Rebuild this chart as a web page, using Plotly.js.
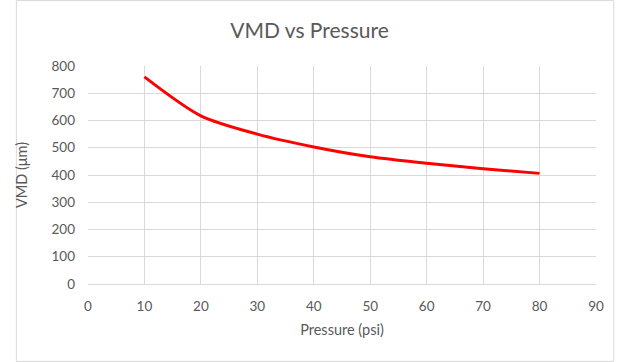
<!DOCTYPE html>
<html>
<head>
<meta charset="utf-8">
<script src="https://cdn.plot.ly/plotly-3.0.1.min.js"></script>
<style>html,body{margin:0;padding:0;background:#fff;}#chart{width:619px;height:362px;}</style>
</head>
<body>
<div id="chart"></div>
<script>
const pressure = [10, 20, 30, 40, 50, 60, 70, 80];
const vmd = [760, 617, 550, 503, 467, 443, 423, 406];
const xTicks = [0, 10, 20, 30, 40, 50, 60, 70, 80, 90];
const yTicks = [0, 100, 200, 300, 400, 500, 600, 700, 800];

const fontFam = 'Lato, "Open Sans", sans-serif';
const grey = '#595959';

Plotly.newPlot('chart', [{
  x: pressure,
  y: vmd,
  type: 'scatter',
  mode: 'lines',
  line: {color: '#ff0000', width: 3, shape: 'spline', smoothing: 0.8},
  hoverinfo: 'skip'
}], {
  width: 619, height: 362,
  paper_bgcolor: '#fff', plot_bgcolor: '#fff',
  margin: {l: 88, r: 23, t: 66, b: 78},
  font: {family: fontFam, color: grey, size: 13},
  showlegend: false,
  title: {text: 'VMD vs Pressure', font: {family: fontFam, size: 21, color: grey}, x: 0.5, xanchor: 'center', y: 0.915, yanchor: 'middle'},
  xaxis: {
    range: [0, 90], tickvals: xTicks, ticktext: xTicks.map(String),
    showgrid: true, gridcolor: '#d9d9d9', gridwidth: 1,
    zeroline: false, showline: true, linecolor: '#d9d9d9', linewidth: 1,
    ticks: '', tickfont: {size: 13.5, color: grey}, ticklabelstandoff: 10,
    title: {text: 'Pressure (psi)', font: {size: 14.5, color: grey}, standoff: 11}
  },
  yaxis: {
    range: [0, 800], tickvals: yTicks, ticktext: yTicks.map(String),
    showgrid: true, gridcolor: '#d9d9d9', gridwidth: 1,
    zeroline: false, showline: false,
    ticks: '', tickfont: {size: 13.5, color: grey}, ticklabelstandoff: 12,
    title: {text: 'VMD (μm)', font: {size: 14.5, color: grey}, standoff: 20}
  },
  shapes: [{type: 'rect', xref: 'paper', yref: 'paper', x0: -0.141, x1: 1.035, y0: -0.355, y1: 1.3, line: {color: '#d9d9d9', width: 1}}]
}, {displayModeBar: false, staticPlot: true});
</script>
</body>
</html>
